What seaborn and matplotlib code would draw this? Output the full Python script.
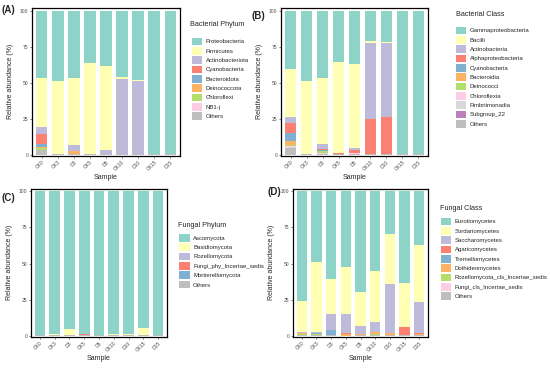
import matplotlib
matplotlib.use("Agg")
import matplotlib.pyplot as plt
from matplotlib.patches import Patch
import pandas as pd
import seaborn as sns

samples = ["CK0", "CK3", "D3", "CK5", "D5", "CK10", "D10", "CK15", "D15"]

# (A) bacterial phylum, top of stack first
bac_phylum_taxa = ["Proteobacteria", "Firmicutes", "Actinobacteriota", "Cyanobacteria",
                   "Bacteroidota", "Deinococcota", "Chloroflexi", "NB1-j", "Others"]
bac_phylum_vals = [
    [46.6, 48.6, 46.9, 36.4, 38.0, 46.0, 48.2, 99.5, 99.6],
    [34.0, 51.0, 46.0, 63.3, 58.8, 1.2, 0.4, 0.2, 0.1],
    [5.2, 0.1, 4.6, 0.1, 2.6, 52.4, 51.2, 0.1, 0.1],
    [6.4, 0.1, 0.1, 0.0, 0.1, 0.0, 0.0, 0.0, 0.0],
    [2.3, 0.0, 0.1, 0.0, 0.0, 0.1, 0.0, 0.0, 0.0],
    [0.5, 0.0, 1.8, 0.0, 0.1, 0.0, 0.0, 0.0, 0.0],
    [1.5, 0.0, 0.2, 0.0, 0.1, 0.0, 0.0, 0.0, 0.0],
    [0.3, 0.0, 0.0, 0.0, 0.0, 0.0, 0.0, 0.0, 0.0],
    [3.2, 0.2, 0.3, 0.2, 0.3, 0.3, 0.2, 0.2, 0.2],
]

# (B) bacterial class
bac_class_taxa = ["Gammaproteobacteria", "Bacilli", "Actinobacteria", "Alphaproteobacteria",
                  "Cyanobacteria", "Bacteroidia", "Deinococci", "Chloroflexia",
                  "Fimbriimonadia", "Subgroup_22", "Others"]
bac_class_vals = [
    [40.2, 48.5, 46.6, 35.6, 37.0, 20.8, 21.3, 99.5, 99.6],
    [33.5, 50.9, 45.8, 63.4, 58.6, 1.2, 1.0, 0.2, 0.1],
    [4.1, 0.1, 3.8, 0.1, 1.4, 53.0, 51.2, 0.1, 0.1],
    [7.0, 0.3, 0.8, 0.6, 1.5, 24.8, 26.3, 0.0, 0.0],
    [5.8, 0.0, 0.1, 0.0, 0.1, 0.0, 0.0, 0.0, 0.0],
    [2.8, 0.0, 0.2, 0.0, 0.1, 0.0, 0.0, 0.0, 0.0],
    [0.4, 0.0, 1.8, 0.0, 0.1, 0.0, 0.0, 0.0, 0.0],
    [1.0, 0.0, 0.2, 0.0, 0.4, 0.0, 0.0, 0.0, 0.0],
    [0.6, 0.0, 0.1, 0.0, 0.1, 0.0, 0.0, 0.0, 0.0],
    [0.2, 0.0, 0.0, 0.0, 0.0, 0.0, 0.0, 0.0, 0.0],
    [4.4, 0.2, 0.6, 0.3, 0.7, 0.2, 0.2, 0.2, 0.2],
]

# (C) fungal phylum
fun_phylum_taxa = ["Ascomycota", "Basidiomycota", "Rozellomycota",
                   "Fungi_phy_Incertae_sedis", "Mortierellomycota", "Others"]
fun_phylum_vals = [
    [99.2, 98.8, 95.6, 98.8, 99.6, 98.9, 98.9, 94.6, 99.5],
    [0.4, 1.0, 4.1, 0.2, 0.2, 0.9, 0.9, 5.1, 0.3],
    [0.1, 0.0, 0.1, 0.0, 0.0, 0.0, 0.0, 0.0, 0.0],
    [0.0, 0.0, 0.0, 0.8, 0.0, 0.0, 0.0, 0.1, 0.0],
    [0.1, 0.0, 0.0, 0.0, 0.0, 0.0, 0.0, 0.0, 0.0],
    [0.2, 0.2, 0.2, 0.2, 0.2, 0.2, 0.2, 0.2, 0.2],
]

# (D) fungal class
fun_class_taxa = ["Eurotiomycetes", "Sordariomycetes", "Saccharomycetes", "Agaricomycetes",
                  "Tremellomycetes", "Dothideomycetes", "Rozellomycota_cls_Incertae_sedis",
                  "Fungi_cls_Incertae_sedis", "Others"]
fun_class_vals = [
    [76.0, 49.0, 61.0, 52.4, 69.6, 55.0, 29.5, 63.2, 37.3],
    [21.5, 48.5, 24.0, 32.5, 23.3, 35.5, 34.8, 30.8, 39.4],
    [0.5, 0.8, 10.7, 13.5, 6.0, 6.9, 33.8, 0.2, 21.5],
    [0.1, 0.1, 0.1, 0.6, 0.1, 0.1, 0.2, 5.3, 0.3],
    [0.1, 0.1, 3.9, 0.1, 0.0, 0.0, 0.0, 0.0, 0.0],
    [0.6, 0.3, 0.1, 0.8, 0.6, 1.6, 1.0, 0.2, 1.0],
    [0.7, 1.0, 0.0, 0.0, 0.1, 0.1, 0.0, 0.0, 0.0],
    [0.0, 0.0, 0.0, 0.0, 0.0, 0.0, 0.0, 0.0, 0.0],
    [0.5, 0.2, 0.2, 0.1, 0.3, 0.8, 0.7, 0.3, 0.5],
]

teal, yellow, lav, salmon = "#8DD3C7", "#FFFFB3", "#BEBADA", "#FB8072"
blue, orange, green, pink = "#80B1D3", "#FDB462", "#B3DE69", "#FCCDE5"
lgrey, purple, grey = "#D9D9D9", "#BC80BD", "#BEBEBE"

bac_phylum_cols = [teal, yellow, lav, salmon, blue, orange, green, pink, grey]
bac_class_cols = [teal, yellow, lav, salmon, blue, orange, green, pink, lgrey, purple, grey]
fun_phylum_cols = [teal, yellow, lav, salmon, blue, grey]
fun_class_cols = [teal, yellow, lav, salmon, blue, orange, green, pink, grey]

sns.set_style("ticks")
plt.rcParams["font.family"] = ["Liberation Sans", "DejaVu Sans"]

W, H = 550, 369
fig = plt.figure(figsize=(W / 100, H / 100), dpi=100)


def px_axes(left, right, top, bottom):
    return fig.add_axes([left / W, 1 - bottom / H, (right - left) / W, (bottom - top) / H])


def panel(ax, taxa, vals, cols, tag, tag_xy, legend_xy, title_xy, title):
    df = pd.DataFrame(vals, index=taxa, columns=samples)
    cum = df.iloc[::-1].cumsum().iloc[::-1]
    for taxon, c in zip(taxa, cols):
        sns.barplot(x=samples, y=cum.loc[taxon].values, order=samples, color=c,
                    width=0.72, saturation=1, linewidth=0, errorbar=None, ax=ax)
    ax.set_xlim(-0.6, 8.6)
    ax.set_ylim(-0.5, 102)
    ax.set_yticks([0, 25, 50, 75, 100])
    for s in ax.spines.values():
        s.set_visible(True)
        s.set_color("black")
        s.set_linewidth(0.9)
    ax.tick_params(labelsize=3.6, colors="#4D4D4D", length=1.5, width=0.5, pad=1.2)
    plt.setp(ax.get_xticklabels(), rotation=45, ha="right", rotation_mode="anchor")
    ax.set_xlabel("Sample", fontsize=5, labelpad=2)
    ax.set_ylabel("Relative abundance (%)", fontsize=5)
    w = ax.get_position().width * W
    ax.yaxis.set_label_coords(-18 / w, 0.5)
    fig.text(tag_xy[0] / W, 1 - tag_xy[1] / H, tag, fontsize=7, fontweight="bold", va="center")
    fig.text(title_xy[0] / W, 1 - title_xy[1] / H, title, fontsize=5.2, va="center")
    handles = [Patch(facecolor=c, edgecolor="none") for c in cols]
    fig.legend(handles, taxa, loc="upper left",
               bbox_to_anchor=(legend_xy[0] / W, 1 - legend_xy[1] / H),
               bbox_transform=fig.transFigure, frameon=False, borderpad=0,
               borderaxespad=0, fontsize=4.3, handlelength=1.78, handleheight=1.6,
               labelspacing=0.28, handletextpad=0.6)


axA = px_axes(32, 180, 8, 155.5)
panel(axA, bac_phylum_taxa, bac_phylum_vals, bac_phylum_cols, "(A)", (2, 10),
      (191.5, 37.5), (190.5, 25), "Bacterial Phylum")

axB = px_axes(281, 428, 8, 155.5)
panel(axB, bac_class_taxa, bac_class_vals, bac_class_cols, "(B)", (252, 16),
      (455.5, 26.5), (455.5, 15), "Bacterial Class")

axC = px_axes(31, 167, 188.5, 336.5)
panel(axC, fun_phylum_taxa, fun_phylum_vals, fun_phylum_cols, "(C)", (2, 198),
      (179, 234), (178, 225.5), "Fungal Phylum")

axD = px_axes(293, 428, 188.5, 336.5)
panel(axD, fun_class_taxa, fun_class_vals, fun_class_cols, "(D)", (268, 192),
      (440.5, 217.5), (440, 209), "Fungal Class")

fig.savefig("out.png", dpi=100)
